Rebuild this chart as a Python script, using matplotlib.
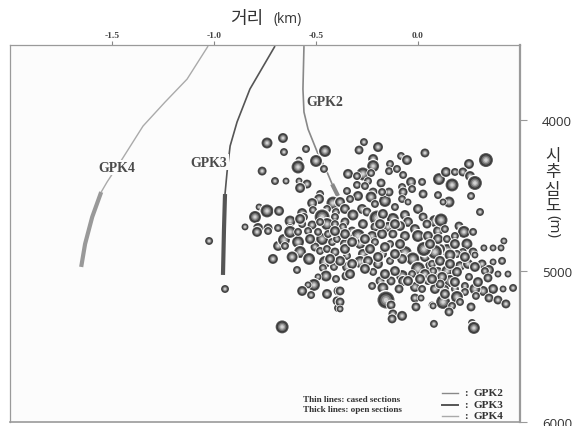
import numpy as np
import matplotlib
matplotlib.use("Agg")
import matplotlib.pyplot as plt

W, H = 580, 427
KR = ['Noto Sans CJK KR', 'DejaVu Sans']
SERIF = 'Liberation Serif'

x_ticks = [-1.5, -1.0, -0.5, 0.0]
x_tick_labels = ['-1.5', '-1.0', '-0.5', '0.0']
depth_ticks = [4000, 5000, 6000]

event_x = [
 -0.740,-0.662,-0.657,-0.549,-0.456,-0.583,-0.500,-0.588,-0.461,-0.764,
 -0.701,-0.647,-0.583,-0.544,-0.578,-0.480,-0.485,-0.519,-0.417,-0.779,
 -0.740,-0.681,-0.799,-0.515,-0.446,-0.568,-0.470,-0.627,-0.559,-0.402,
 -0.407,-0.848,-0.784,-0.735,-0.686,-0.627,-0.568,-0.519,-0.446,-0.480,
 -0.407,-0.789,-0.735,-0.686,-0.657,-0.652,-0.588,-0.578,-0.711,-0.617,
 -0.534,-0.593,-0.456,-0.417,-0.466,-0.412,-0.451,-0.490,-0.402,-0.510,
 -0.539,-0.568,-0.524,-0.446,-0.392,-0.397,-0.392,-0.666,-0.627,-0.588,
 -0.539,-0.519,-0.470,-0.505,-0.480,-0.446,-0.407,-0.421,-0.397,-0.441,
 -0.490,-1.024,-0.946,-0.265,-0.196,-0.289,0.034,-0.083,-0.054,-0.220,
 -0.220,-0.137,-0.142,-0.103,-0.073,-0.343,-0.270,-0.230,-0.299,-0.034,
 0.020,0.103,-0.181,-0.299,-0.245,-0.260,-0.348,-0.220,-0.294,-0.333,
 -0.230,-0.162,-0.078,-0.073,-0.029,0.025,0.098,-0.142,-0.176,-0.078,
 -0.049,-0.274,-0.211,-0.113,-0.382,-0.358,-0.319,-0.250,-0.201,-0.123,
 -0.172,-0.064,0.000,-0.358,-0.270,-0.049,0.025,0.083,-0.088,-0.147,
 -0.211,-0.015,0.044,-0.323,-0.368,0.098,-0.294,-0.225,-0.176,-0.123,
 -0.064,0.000,0.049,-0.348,-0.358,-0.284,-0.211,-0.137,-0.064,-0.088,
 0.025,-0.025,-0.172,-0.270,-0.348,-0.284,-0.348,-0.196,-0.137,-0.078,
 0.034,0.059,0.000,-0.078,-0.029,0.093,0.098,-0.073,-0.015,0.020,
 0.049,0.083,-0.220,-0.353,-0.186,-0.132,-0.225,-0.172,-0.093,-0.382,
 -0.157,-0.132,-0.015,0.015,-0.010,0.069,0.123,-0.382,-0.382,-0.123,
 -0.078,-0.127,0.078,0.152,0.123,0.260,0.304,0.113,0.201,0.225,
 0.270,0.132,0.421,0.368,0.323,0.407,0.240,0.270,0.279,0.220,
 0.412,0.368,0.314,0.348,0.441,0.392,0.328,0.343,0.466,0.417,
 0.368,0.319,0.279,0.284,0.348,0.392,0.431,0.230,0.230,0.250,
 0.206,0.245,0.191,0.142,0.108,0.083,0.157,0.098,0.142,0.181,
 0.069,0.142,0.157,0.118,0.191,0.074,0.132,0.181,0.108,0.191,
 0.206,0.260,0.167,0.152,0.074,0.265,0.274,0.333,0.250,0.137,
 0.181,0.220,0.255,0.167,0.279,0.029,0.059,0.108,0.034,-0.113,
 -0.162,-0.235,-0.323,-0.382,-0.113,-0.162,-0.245,-0.358,-0.260,-0.186,
 -0.113,0.181,0.230,0.279,0.181,0.294,0.069,0.132,-0.578,-0.529,
 -0.358,-0.431,-0.323,-0.407,-0.333,-0.260,-0.196,-0.049,0.010,0.157,
]
event_depth = [
 4152,4119,4212,4192,4205,4265,4271,4311,4324,4338,
 4404,4404,4404,4424,4450,4490,4523,4550,4550,4576,
 4602,4602,4642,4596,4589,4616,4642,4669,4642,4609,
 4642,4708,4715,4715,4715,4715,4689,4695,4689,4675,
 4689,4741,4735,4834,4794,4834,4808,4874,4920,4907,
 4920,4993,4940,4933,4980,4973,5033,5039,5053,5092,
 5092,5132,5159,5152,5132,5198,5245,5370,4741,4741,
 4735,4801,4788,4841,4867,4854,4874,4808,4788,4755,
 4741,4801,5119,4146,4179,4199,4218,4238,4265,4258,
 4305,4291,4338,4324,4364,4357,4357,4351,4371,4410,
 4410,4391,4417,4430,4404,4437,4470,4477,4503,4523,
 4510,4536,4444,4477,4457,4490,4497,4477,4477,4523,
 4543,4589,4556,4576,4543,4589,4629,4609,4649,4655,
 4622,4629,4589,4675,4689,4675,4642,4669,4702,4708,
 4708,4722,4689,4735,4708,4735,4768,4768,4755,4755,
 4768,4768,4768,4775,4821,4821,4808,4821,4881,4821,
 4847,4920,4887,4887,4900,4940,4973,4953,4933,4920,
 4907,4967,4986,5033,5020,4900,5006,5066,5106,5119,
 5066,5119,5006,5033,5066,5066,5099,5112,5119,5132,
 5192,5225,5179,5179,5238,5225,5205,5205,5251,5284,
 5297,5317,5350,4543,4543,4503,4609,4662,4702,4741,
 4741,4722,4801,4847,4847,4847,4821,4874,4894,4874,
 4933,4940,4953,4993,5020,5020,5000,5046,5112,5119,
 5119,5132,5119,5165,5179,5192,5218,5099,5139,5039,
 4967,4953,4887,4861,4854,4874,4894,4788,4788,4768,
 4953,5000,5066,5039,5006,5000,5119,5119,5086,5172,
 5205,5238,5231,5271,5231,5344,5377,4265,4291,4344,
 4344,4344,4371,4430,4417,4854,4821,4933,5020,4887,
 4841,4854,4953,4933,5000,5020,4933,4755,4788,4689,
 4689,4821,4907,4973,5073,5073,5053,5152,4655,4788,
 4854,4920,4808,4735,5020,4986,4907,5066,5053,4953,
]
event_size = [
 5.5,5,4,4,6,3.5,6,6.5,4,4.5,
 4,3.5,3.5,4.5,5,4,5,5,6.5,3.5,
 6.5,5,6,4,4,5,7.5,5.5,4,4,
 4,3.5,5,4.5,4,4,4,4.5,6,4,
 4,5,4,5,6,4,6,6,5,5.5,
 6,4,6,5,4,4,5.5,3.5,4,6,
 3.5,5,4,5,4.5,4.5,4,6.5,6,4,
 4,4.5,6,4.5,4,4,4.5,4,4,4,
 4,4,4,4,5,4.5,4.5,4,5,5,
 6,4,4,4,4,5,6.5,4,4,5,
 4,6,4.5,4,4,4,4,4.5,5,4,
 5.5,6,4,4.5,4,4.5,4,4.5,4,4,
 3.5,5,4,4,5,5,5.5,4.5,7.5,6,
 5,5,5,4.5,5,5,4.5,6,5,5,
 4.5,5,4.5,4.5,4,5,7,5,5,4.5,
 5,6,5,5,5,5,4,4,7,5,
 6,6.5,4,5,4,6,5,5,4,5,
 5,5,7,6,4,5,5,5,5,4,
 4,5,4,4.5,4.5,4.5,4,5.5,4.5,4.5,
 8.5,4.5,4.5,3.5,4.5,3.5,7,4.5,3.5,4.5,
 5,4.5,4,5.5,3.5,4,4,6.5,4.5,6,
 4,4,3.5,3.5,3.5,3.5,5.5,4.5,3.5,4,
 4,3.5,4.5,5,3.5,3.5,4,4.5,4,3.5,
 5,5,5.5,4,4.5,4.5,4.5,4,4,4,
 5,5,4,6,5,7,5.5,5,4,4,
 4,5.5,6,5,5,4,4,4,4.5,6,
 4,4.5,4,4.5,3.5,4,6,7,5,5,
 4,4.5,5,6.5,7,7,5,5,5,5,
 5,5,5,5,5,5,5,5,5,5,
 5,5,5,5,5,5,5,5,5,5,
 5,5,5,5,5,5,5,5,5,5,
]

gpk2_cased_x = [-0.559,-0.564,-0.559,-0.539,-0.490,-0.446,-0.421]
gpk2_cased_d = [3510,3795,3947,4060,4225,4344,4424]
gpk2_open_x = [-0.421,-0.392]
gpk2_open_d = [4424,4503]
gpk3_cased_x = [-0.701,-0.824,-0.887,-0.921,-0.936,-0.946]
gpk3_cased_d = [3510,3795,4013,4172,4344,4490]
gpk3_open_x = [-0.946,-0.951,-0.956]
gpk3_open_d = [4490,4722,5026]
gpk4_cased_x = [-1.029,-1.132,-1.240,-1.348,-1.450,-1.524,-1.553]
gpk4_cased_d = [3510,3729,3881,4040,4258,4410,4477]
gpk4_open_x = [-1.553,-1.597,-1.632,-1.651]
gpk4_open_d = [4477,4642,4821,4973]

C2, C3, C4 = '#888888', '#555555', '#aaaaaa'

fig = plt.figure(figsize=(W / 100, H / 100), dpi=100, facecolor='white')
ax = fig.add_axes([10 / W, 1 - 423 / H, 510 / W, 377 / H], facecolor='#fcfcfc')
ax.set_xlim(-2.0, 0.5)
ax.set_ylim(6000, 3503)

# well tracks
for xs, ds, c, lw in [
    (gpk4_cased_x, gpk4_cased_d, C4, 1.0), (gpk4_open_x, gpk4_open_d, '#999999', 3.0),
    (gpk3_cased_x, gpk3_cased_d, C3, 1.2), (gpk3_open_x, gpk3_open_d, '#555555', 3.0),
    (gpk2_cased_x, gpk2_cased_d, C2, 1.2), (gpk2_open_x, gpk2_open_d, '#888888', 3.0)]:
    ax.plot(xs, ds, color=c, lw=lw, solid_capstyle='butt', zorder=2)

# events as shaded spheres, kept in one collection so that later spheres cover earlier ones
layers = [(1.18, '#ffffff'), (1.0, '#5a5a5a'), (0.86, '#3a3a3a'), (0.66, '#6e6e6e'), (0.46, '#a2a2a2'), (0.26, '#d2d2d2')]
ex, ed, er = np.array(event_x), np.array(event_depth), np.array(event_size)
n = len(ex)
fx = np.repeat(ex, len(layers))
fd = np.repeat(ed, len(layers))
fs = np.concatenate([(2 * r * 0.72 * np.array([l[0] for l in layers])) ** 2 for r in er])
fc = [l[1] for _ in range(n) for l in layers]
ax.scatter(fx, fd, s=fs, c=fc, linewidths=0, zorder=3)

# axes styling
for s in ax.spines.values():
    s.set_color('#9a9a9a')
    s.set_linewidth(0.9)
ax.spines['right'].set_linewidth(1.6)
ax.spines['bottom'].set_linewidth(1.2)
ax.xaxis.tick_top()
ax.set_xticks(x_ticks)
ax.set_xticklabels(x_tick_labels, family=SERIF, fontweight='bold', fontsize=6.8, color='#444444')
ax.tick_params(axis='x', length=3, width=0.8, color='#888888', pad=1.5)
ax.yaxis.tick_right()
ax.set_yticks(depth_ticks)
ax.set_yticklabels([str(d) for d in depth_ticks], family='Open Sans', fontsize=9.6, color='#333333')
ax.tick_params(axis='y', length=5, width=0.8, color='#999999', pad=11)

# well labels
for label, lx, ly in [('GPK2', -0.455, 3880), ('GPK3', -1.025, 4280), ('GPK4', -1.475, 4315)]:
    ax.text(lx, ly, label, family=SERIF, fontweight='bold', fontsize=10, color='#4a4a4a',
            ha='center', va='center', zorder=4,
            bbox=dict(facecolor='#fcfcfc', edgecolor='none', pad=1.0))

# legend
def fx_(px): return px / W
def fy_(py): return 1 - py / H
fig.text(fx_(303), fy_(400), 'Thin lines: cased sections', family=SERIF, fontweight='bold', fontsize=6.6, color='#333333', va='center')
fig.text(fx_(303), fy_(410), 'Thick lines: open sections', family=SERIF, fontweight='bold', fontsize=6.6, color='#333333', va='center')
for label, py, c, lw in [('GPK2', 394, C2, 1.0), ('GPK3', 406, C3, 1.4), ('GPK4', 417, C4, 1.0)]:
    fig.add_artist(plt.Line2D([fx_(442), fx_(458)], [fy_(py)] * 2, color=c, lw=lw))
    fig.text(fx_(464), fy_(py), ':', family=SERIF, fontweight='bold', fontsize=8, color='#333333', va='center')
    fig.text(fx_(474), fy_(py), label, family=SERIF, fontweight='bold', fontsize=8, color='#333333', va='center')

# titles
fig.text(fx_(230), fy_(19), '거리', family=KR, fontsize=13, color='#333333', va='center', ha='left')
fig.text(fx_(273), fy_(19), '(km)', family='Open Sans', fontsize=10, color='#333333', va='center', ha='left')
for ch, py in [('시', 157), ('추', 173), ('심', 190), ('도', 206)]:
    fig.text(fx_(553), fy_(py), ch, family=KR, fontsize=12, color='#333333', va='center', ha='center')
fig.text(fx_(553), fy_(227), '(m)', family='Open Sans', fontsize=11, color='#333333', va='center', ha='center', rotation=-90)

fig.savefig('out.png', dpi=100)
